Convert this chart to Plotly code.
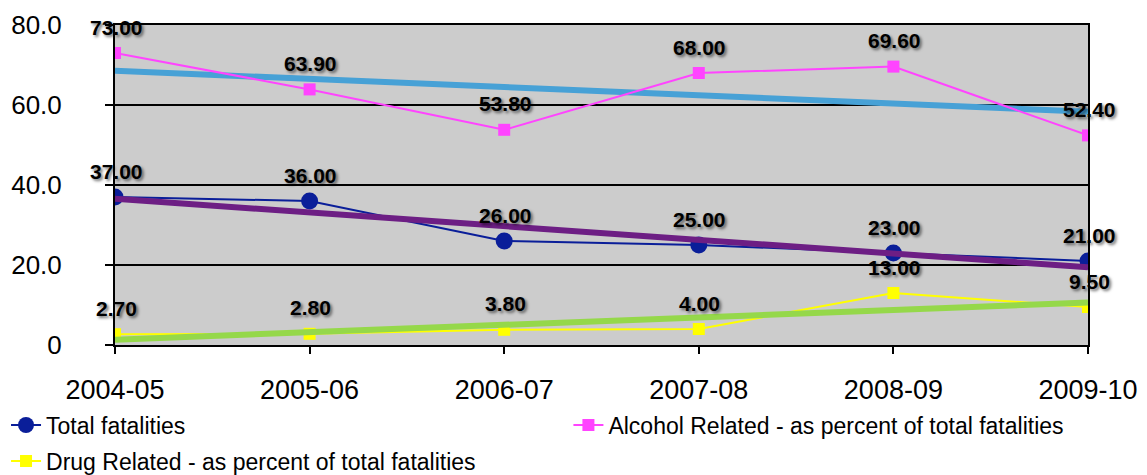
import numpy as np
import plotly.graph_objects as go

years = ["2004-05", "2005-06", "2006-07", "2007-08", "2008-09", "2009-10"]
total_fatalities = [37, 36, 26, 25, 23, 21]
alcohol_pct = [73.0, 63.9, 53.8, 68.0, 69.6, 52.4]
drug_pct = [2.7, 2.8, 3.8, 4.0, 13.0, 9.5]
y_tickvals = [0, 20, 40, 60, 80]
y_ticktext = ["0", "20.0", "40.0", "60.0", "80.0"]

idx = np.arange(len(years))


def trend(vals):
    slope, icpt = np.polyfit(idx, vals, 1)
    return list(slope * idx + icpt)


fig = go.Figure()

# alcohol trend
fig.add_trace(go.Scatter(x=years, y=trend(alcohol_pct), mode="lines",
                         line=dict(color="#47a1d6", width=6), showlegend=False,
                         hoverinfo="skip"))
fig.add_trace(go.Scatter(x=years, y=alcohol_pct, mode="lines+markers",
                         name="Alcohol Related - as percent of total fatalities",
                         line=dict(color="#ff44ff", width=2),
                         marker=dict(symbol="square", size=12, color="#ff44ff"),
                         legend="legend2"))
fig.add_trace(go.Scatter(x=years, y=total_fatalities, mode="lines+markers",
                         name="Total fatalities",
                         line=dict(color="#0a1e99", width=2),
                         marker=dict(symbol="circle", size=17, color="#0a1e99"),
                         legendgroup="g1", legendrank=1))
fig.add_trace(go.Scatter(x=years, y=trend(total_fatalities), mode="lines",
                         line=dict(color="#6d1e84", width=6), showlegend=False,
                         hoverinfo="skip"))
fig.add_trace(go.Scatter(x=years, y=drug_pct, mode="lines+markers",
                         name="Drug Related - as percent of total fatalities",
                         line=dict(color="#ffff00", width=2),
                         marker=dict(symbol="square", size=12, color="#ffff00"),
                         legendgroup="g2", legendrank=2))
fig.add_trace(go.Scatter(x=years, y=trend(drug_pct), mode="lines",
                         line=dict(color="#95d84a", width=6), showlegend=False,
                         hoverinfo="skip"))

annots = []
for series in (alcohol_pct, total_fatalities, drug_pct):
    for x, v in zip(years, series):
        annots.append(dict(x=x, y=v, text=f"{v:.2f}", showarrow=False,
                           yshift=26, xshift=1,
                           font=dict(family="Liberation Sans, Arial", size=21,
                                     color="black", weight="bold",
                                     shadow="2px 2px 3px rgba(0,0,0,0.55)")))

leg_common = dict(orientation="v", xanchor="left", yanchor="top",
                  font=dict(size=23, color="black"), bgcolor="rgba(0,0,0,0)",
                  itemwidth=30, borderwidth=0)

# the page body adds an 8px offset; the figure size compensates for it
fig.update_layout(
    width=1139, height=467,
    margin=dict(l=107, r=59, t=17, b=130, autoexpand=False),
    paper_bgcolor="white", plot_bgcolor="#cccccc",
    font=dict(family="Liberation Sans, Arial", color="black"),
    annotations=annots,
    showlegend=True,
    legend=dict(x=-0.112, y=-0.183, tracegroupgap=3, traceorder="grouped", **leg_common),
    legend2=dict(x=0.466, y=-0.183, **leg_common),
    xaxis=dict(type="category", range=[0, 5], showgrid=False, showline=True,
               linecolor="black", linewidth=2, mirror=True, automargin=False,
               ticks="outside", ticklen=7, tickwidth=2, tickcolor="black",
               tickfont=dict(size=27), ticklabelstandoff=13, zeroline=False),
    yaxis=dict(range=[0, 80], tickvals=y_tickvals, ticktext=y_ticktext,
               showgrid=True, gridcolor="black", gridwidth=2, automargin=False,
               showline=True, linecolor="black", linewidth=2, mirror=True,
               ticks="outside", ticklen=8, tickwidth=2, tickcolor="black",
               tickfont=dict(size=26), ticklabelstandoff=38, zeroline=False),
)

fig.write_html("out.html")
